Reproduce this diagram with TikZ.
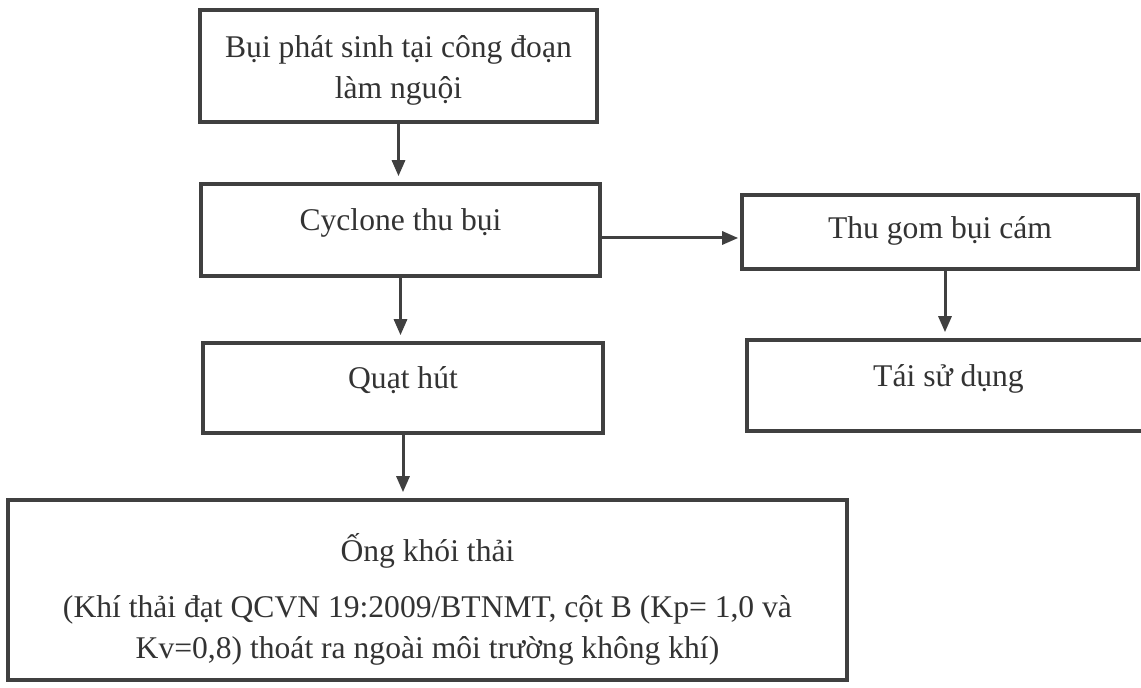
\documentclass[tikz,border=0pt]{standalone}
\usepackage{fontspec}
\setmainfont{Liberation Serif}
\usetikzlibrary{arrows.meta,positioning}

\tikzset{
  box/.style={draw=black!75, line width=1.8pt, rectangle, align=center,
    inner sep=0pt, text=black!80},
  raised/.style={text height=11pt, text depth=10pt},
  flow/.style={draw=black!75, line width=1.5pt,
    -{Triangle[length=8pt,width=6.5pt]}, shorten >=3pt}
}

\begin{document}
\begin{tikzpicture}[x=0.5pt, y=-0.5pt, font=\fontsize{15.8}{20.8}\selectfont]
    \useasboundingbox (0,0) rectangle (1141,688);

    % main line
    \node[box, text height=37pt, text depth=4pt, minimum width=198.5pt, minimum height=56pt] (source) at (398.5,66)
        {Bụi phát sinh tại công đoạn\\làm nguội};
    \node[box, raised, minimum width=199.5pt, minimum height=46pt] (cyclone) at (400.5,230)
        {Cyclone thu bụi};
    \node[box, raised, minimum width=200pt, minimum height=45pt] (fan) at (403,388)
        {Quạt hút};
    \node[box, text height=73pt, text depth=4pt, minimum width=419.5pt, minimum height=90pt] (stack) at (427.5,590)
        {Ống khói thải\\[7pt]
         (Khí thải đạt QCVN 19:2009/BTNMT, cột B (Kp= 1,0 và\\
         Kv=0,8) thoát ra ngoài môi trường không khí)};

    % side line
    \node[box, text height=11pt, text depth=4pt, minimum width=198pt, minimum height=37pt] (collect) at (940,232)
        {Thu gom bụi cám};
    \node[box, raised, minimum width=201.5pt, minimum height=45.5pt] (reuse) at (948.5,385.5)
        {Tái sử dụng};

    \draw[flow] (source.south) -- (source.south |- cyclone.north);
    \draw[flow] (cyclone.south) -- (cyclone.south |- fan.north);
    \draw[flow] (fan.south) -- (fan.south |- stack.north);

    \coordinate (tap) at ([yshift=-4pt]cyclone.east);
    \draw[flow, shorten >=1pt] (tap) -- (tap -| collect.west);
    \draw[flow] ([xshift=2.5pt]collect.south) -- ([xshift=2.5pt]collect.south |- reuse.north);
\end{tikzpicture}
\end{document}
